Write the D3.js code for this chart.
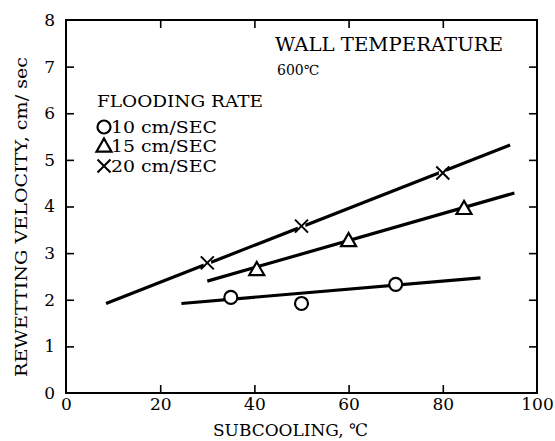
<!DOCTYPE html>
<html>
<head>
<meta charset="utf-8">
<script src="https://cdn.jsdelivr.net/npm/d3@7"></script>
<style>
  body { margin: 0; background: #fff; }
  svg { display: block; }
  svg text { font-family: "DejaVu Serif", "Liberation Serif", "Noto Serif", serif; }
</style>
</head>
<body>
<svg id="chart" width="555" height="441"></svg>
<script>
// data
var xTicks = [0, 20, 40, 60, 80, 100];
var yTicks = [0, 1, 2, 3, 4, 5, 6, 7, 8];

var sub10 = [35, 50, 70];
var vel10 = [2.05, 1.92, 2.33];
var fit10 = [[24.5, 1.92], [88, 2.47]];

var sub15 = [40.5, 60, 84.5];
var vel15 = [2.65, 3.27, 3.96];
var fit15 = [[30, 2.4], [95.2, 4.29]];

var sub20 = [30, 50, 80];
var vel20 = [2.79, 3.58, 4.72];
var fit20 = [[8.5, 1.92], [94.3, 5.32]];

var legendLabels = ['10 cm/SEC', '15 cm/SEC', '20 cm/SEC'];

var svg = d3.select('#chart');
var margin = { left: 66, top: 20, right: 537, bottom: 393 };

var x = d3.scaleLinear().domain([0, 100]).range([margin.left, margin.right]);
var y = d3.scaleLinear().domain([0, 8]).range([margin.bottom, margin.top]);

// frame
svg.append('rect')
  .attr('x', margin.left).attr('y', margin.top)
  .attr('width', margin.right - margin.left)
  .attr('height', margin.bottom - margin.top)
  .attr('fill', 'none').attr('stroke', '#000').attr('stroke-width', 2);

function styleAxis(g, hideEnds) {
  g.attr('font-family', null);
  g.select('.domain').remove();
  g.selectAll('.tick line').attr('stroke', '#000').attr('stroke-width', 1.6)
    .attr('opacity', function (d) { return hideEnds.indexOf(d) >= 0 ? 0 : 1; });
  g.selectAll('.tick text').attr('fill', '#000').attr('font-size', 17);
}

svg.append('g')
  .attr('transform', 'translate(0,' + margin.bottom + ')')
  .call(d3.axisBottom(x).tickValues(xTicks).tickSizeInner(-8).tickSizeOuter(0).tickPadding(5))
  .call(styleAxis, [0, 100]);

svg.append('g')
  .attr('transform', 'translate(0,' + margin.top + ')')
  .call(d3.axisTop(x).tickValues(xTicks).tickSizeInner(-8).tickSizeOuter(0).tickFormat(''))
  .call(styleAxis, [0, 100]);

svg.append('g')
  .attr('transform', 'translate(' + margin.left + ',0)')
  .call(d3.axisLeft(y).tickValues(yTicks).tickSizeInner(-8).tickSizeOuter(0).tickPadding(11))
  .call(styleAxis, [0, 8]);

svg.append('g')
  .attr('transform', 'translate(' + margin.right + ',0)')
  .call(d3.axisRight(y).tickValues(yTicks).tickSizeInner(-8).tickSizeOuter(0).tickFormat(''))
  .call(styleAxis, [0, 8]);

// fitted lines
var line = d3.line().x(function (d) { return x(d[0]); }).y(function (d) { return y(d[1]); });
[fit10, fit15, fit20].forEach(function (f) {
  svg.append('path').attr('d', line(f))
    .attr('fill', 'none').attr('stroke', '#000').attr('stroke-width', 3.2)
    .attr('stroke-linecap', 'butt');
});

// markers
function circleMark(g, cx, cy) {
  g.append('circle').attr('cx', cx).attr('cy', cy).attr('r', 6.5)
    .attr('fill', '#fff').attr('stroke', '#000').attr('stroke-width', 2.2);
}
function triMark(g, cx, cy) {
  var s = 7.5;
  g.append('path')
    .attr('d', 'M' + cx + ',' + (cy - s) + 'L' + (cx + s) + ',' + (cy + s * 0.75) + 'L' + (cx - s) + ',' + (cy + s * 0.75) + 'Z')
    .attr('fill', '#fff').attr('stroke', '#000').attr('stroke-width', 2.2);
}
function crossMark(g, cx, cy) {
  var s = 6.5;
  g.append('circle').attr('cx', cx).attr('cy', cy).attr('r', 4).attr('fill', '#fff');
  g.append('path')
    .attr('d', 'M' + (cx - s) + ',' + (cy - s) + 'L' + (cx + s) + ',' + (cy + s) + 'M' + (cx + s) + ',' + (cy - s) + 'L' + (cx - s) + ',' + (cy + s))
    .attr('stroke', '#000').attr('stroke-width', 2);
}

var marks = svg.append('g');
sub10.forEach(function (d, i) { circleMark(marks, x(d), y(vel10[i])); });
sub15.forEach(function (d, i) { triMark(marks, x(d), y(vel15[i])); });
sub20.forEach(function (d, i) { crossMark(marks, x(d), y(vel20[i])); });

// annotations
svg.append('text').attr('x', 275).attr('y', 51).attr('font-size', 18)
  .attr('textLength', 228).attr('lengthAdjust', 'spacingAndGlyphs').text('WALL TEMPERATURE');
svg.append('text').attr('x', 277).attr('y', 75).attr('font-size', 14).text('600℃');

svg.append('text').attr('x', 97).attr('y', 107).attr('font-size', 17)
  .attr('textLength', 166).attr('lengthAdjust', 'spacingAndGlyphs').text('FLOODING RATE');

var legendY = [127, 146, 166];
var legendMarks = [circleMark, triMark, crossMark];
legendLabels.forEach(function (t, i) {
  var lg = svg.append('g');
  legendMarks[i](lg, 104, legendY[i]);
  svg.append('text').attr('x', 111).attr('y', legendY[i] + 6).attr('font-size', 16)
    .attr('textLength', 106).attr('lengthAdjust', 'spacingAndGlyphs').text(t);
});

// axis titles
svg.append('text').attr('x', 213).attr('y', 436).attr('font-size', 17)
  .attr('textLength', 155).attr('lengthAdjust', 'spacingAndGlyphs').text('SUBCOOLING, ℃');

svg.append('text')
  .attr('transform', 'translate(27,377) rotate(-90)')
  .attr('font-size', 17)
  .attr('textLength', 320).attr('lengthAdjust', 'spacingAndGlyphs')
  .text('REWETTING VELOCITY,  cm/ sec');
</script>
</body>
</html>
